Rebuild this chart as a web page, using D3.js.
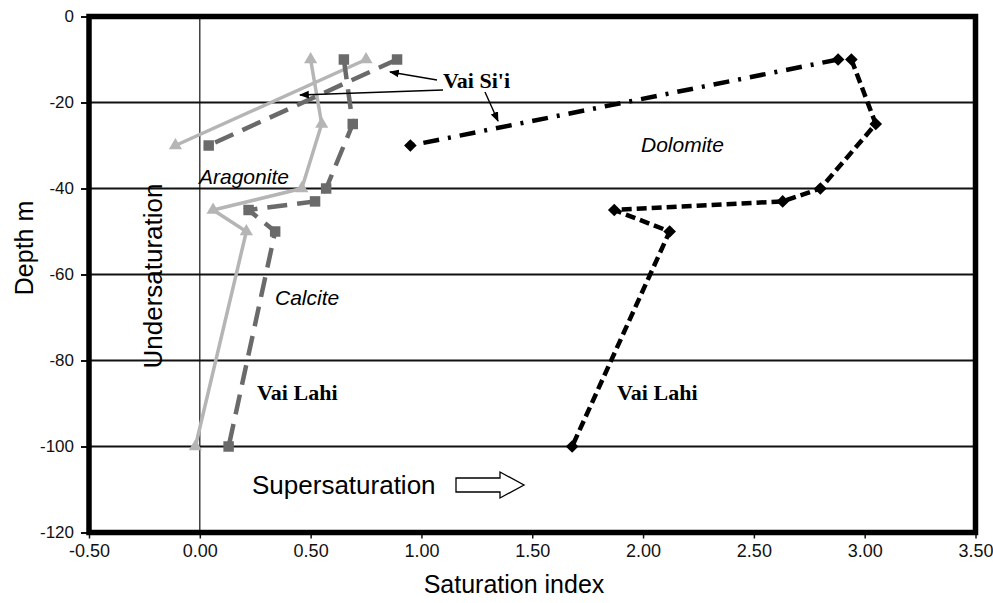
<!DOCTYPE html>
<html lang="en">
<head>
<meta charset="UTF-8">
<title>Saturation index vs depth</title>
<script src="https://d3js.org/d3.v7.min.js"></script>
<style>
    body { margin: 0; padding: 0; background: #fff; overflow: hidden; }
    svg { display: block; }
    .tick text { font-family: Arial, "Liberation Sans", sans-serif; fill: #111; }
    .note { font-family: "Times New Roman", "Liberation Serif", serif; font-weight: bold; font-size: 22px; }
    .mineral { font-family: Arial, "Liberation Sans", sans-serif; font-style: italic; font-size: 21px; }
    .big { font-family: Arial, "Liberation Sans", sans-serif; font-size: 26px; }
</style>
</head>
<body>
<svg id="chart" width="993" height="603"></svg>
<script>
    // data: [saturation index, depth m]
    var aragoniteSii = [[0.75, -10], [-0.11, -30]];
    var aragoniteLahi = [[0.50, -10], [0.55, -25], [0.46, -40], [0.06, -45], [0.21, -50], [-0.02, -100]];
    var calciteSii = [[0.89, -10], [0.04, -30]];
    var calciteLahi = [[0.65, -10], [0.69, -25], [0.57, -40], [0.52, -43], [0.22, -45], [0.34, -50], [0.13, -100]];
    var dolomiteSii = [[2.88, -10], [0.95, -30]];
    var dolomiteLahi = [[2.94, -10], [3.05, -25], [2.80, -40], [2.63, -43], [1.87, -45], [2.12, -50], [1.68, -100]];

    var xTicks = [-0.5, 0, 0.5, 1, 1.5, 2, 2.5, 3, 3.5];
    var yTicks = [0, -20, -40, -60, -80, -100, -120];

    var svg = d3.select('#chart');
    var plotL = 89, plotR = 975.5, plotT = 16.5, plotB = 532.5;

    var x = d3.scaleLinear().domain([-0.5, 3.5]).range([plotL, plotR]);
    var y = d3.scaleLinear().domain([0, -120]).range([plotT, plotB]);

    function hyphen(s) { return s.replace('\u2212', '-'); }

    // horizontal grid lines
    svg.append('g').selectAll('line')
        .data(yTicks.slice(1, -1))
        .enter().append('line')
        .attr('x1', plotL).attr('x2', plotR)
        .attr('y1', function(d) { return y(d); })
        .attr('y2', function(d) { return y(d); })
        .attr('stroke', '#111').attr('stroke-width', 2);

    // zero line
    svg.append('line')
        .attr('x1', x(0)).attr('x2', x(0))
        .attr('y1', plotT).attr('y2', plotB)
        .attr('stroke', '#111').attr('stroke-width', 1.2);

    // axes
    var yAxis = svg.append('g')
        .attr('transform', 'translate(' + plotL + ',0)')
        .call(d3.axisLeft(y).tickValues(yTicks).tickSize(8).tickPadding(7)
            .tickFormat(function(d) { return hyphen(d3.format('d')(d)); }));
    yAxis.selectAll('text').style('font-size', '17px');
    yAxis.select('.domain').remove();
    yAxis.selectAll('.tick line').attr('stroke', '#111').attr('stroke-width', 2);

    var xAxis = svg.append('g')
        .attr('transform', 'translate(0,' + plotB + ')')
        .call(d3.axisBottom(x).tickValues(xTicks).tickSize(6).tickPadding(6)
            .tickFormat(function(d) { return hyphen(d3.format('.2f')(d)); }));
    xAxis.selectAll('text').style('font-size', '18px');
    xAxis.select('.domain').remove();
    xAxis.selectAll('.tick line').attr('stroke', '#111').attr('stroke-width', 1.5);

    // frame
    svg.append('rect')
        .attr('x', plotL).attr('y', plotT)
        .attr('width', plotR - plotL).attr('height', plotB - plotT)
        .attr('fill', 'none').attr('stroke', '#000').attr('stroke-width', 5.5);

    var line = d3.line()
        .x(function(d) { return x(d[0]); })
        .y(function(d) { return y(d[1]); });

    var series = [
        { data: aragoniteSii, color: '#b5b5b5', width: 3.5, dash: null, symbol: d3.symbolTriangle, size: 75, rot: 0 },
        { data: aragoniteLahi, color: '#b5b5b5', width: 3.5, dash: null, symbol: d3.symbolTriangle, size: 75, rot: 0 },
        { data: calciteSii, color: '#6a6a6a', width: 4.5, dash: '20,10', symbol: d3.symbolSquare, size: 110, rot: 0 },
        { data: calciteLahi, color: '#6a6a6a', width: 4.5, dash: '20,10', symbol: d3.symbolSquare, size: 110, rot: 0 },
        { data: dolomiteSii, color: '#000', width: 4.5, dash: '16,9,3,9', symbol: d3.symbolSquare, size: 80, rot: 45 },
        { data: dolomiteLahi, color: '#000', width: 4.5, dash: '10,5', symbol: d3.symbolSquare, size: 80, rot: 45 }
    ];

    series.forEach(function(s) {
        svg.append('path')
            .datum(s.data)
            .attr('d', line)
            .attr('fill', 'none')
            .attr('stroke', s.color)
            .attr('stroke-width', s.width)
            .attr('stroke-dasharray', s.dash);

        svg.append('g').selectAll('path')
            .data(s.data)
            .enter().append('path')
            .attr('d', d3.symbol().type(s.symbol).size(s.size))
            .attr('transform', function(d) {
                return 'translate(' + x(d[0]) + ',' + y(d[1]) + ') rotate(' + s.rot + ')';
            })
            .attr('fill', s.color);
    });

    // arrowhead marker for the callouts
    svg.append('defs').append('marker')
        .attr('id', 'head')
        .attr('viewBox', '0 0 10 10')
        .attr('refX', 9).attr('refY', 5)
        .attr('markerWidth', 7).attr('markerHeight', 7)
        .attr('orient', 'auto')
        .append('path').attr('d', 'M0,1 L10,5 L0,9 Z').attr('fill', '#000');

    var callouts = [
        [[437, 80], [390, 72]],
        [[443, 90], [300, 95]],
        [[485, 92], [498, 121]]
    ];
    svg.append('g').selectAll('line')
        .data(callouts)
        .enter().append('line')
        .attr('x1', function(d) { return d[0][0]; })
        .attr('y1', function(d) { return d[0][1]; })
        .attr('x2', function(d) { return d[1][0]; })
        .attr('y2', function(d) { return d[1][1]; })
        .attr('stroke', '#000').attr('stroke-width', 1.4)
        .attr('marker-end', 'url(#head)');

    // labels
    svg.append('text').attr('class', 'note').attr('x', 443).attr('y', 88).text("Vai Si'i");
    svg.append('text').attr('class', 'note').attr('x', 257).attr('y', 400).text('Vai Lahi');
    svg.append('text').attr('class', 'note').attr('x', 617).attr('y', 400).text('Vai Lahi');

    svg.append('text').attr('class', 'mineral').attr('x', 199).attr('y', 184).text('Aragonite');
    svg.append('text').attr('class', 'mineral').attr('x', 275).attr('y', 305).text('Calcite');
    svg.append('text').attr('class', 'mineral').attr('x', 641).attr('y', 152).text('Dolomite');

    svg.append('text').attr('class', 'big')
        .attr('text-anchor', 'middle')
        .attr('transform', 'translate(162,276) rotate(-90)')
        .text('Undersaturation');

    svg.append('text').attr('class', 'big')
        .attr('x', 252).attr('y', 494)
        .text('Supersaturation');

    // hollow block arrow
    svg.append('path')
        .attr('d', 'M456,478 L500,478 L500,472 L524,485 L500,498 L500,492 L456,492 Z')
        .attr('fill', '#fff').attr('stroke', '#000').attr('stroke-width', 1.3);

    // axis titles
    svg.append('text').attr('class', 'big')
        .attr('text-anchor', 'middle')
        .style('font-size', '25px')
        .attr('transform', 'translate(33,248) rotate(-90)')
        .text('Depth m');

    svg.append('text').attr('class', 'big')
        .attr('text-anchor', 'middle')
        .style('font-size', '25px')
        .attr('x', 514).attr('y', 593)
        .text('Saturation index');
</script>
</body>
</html>
